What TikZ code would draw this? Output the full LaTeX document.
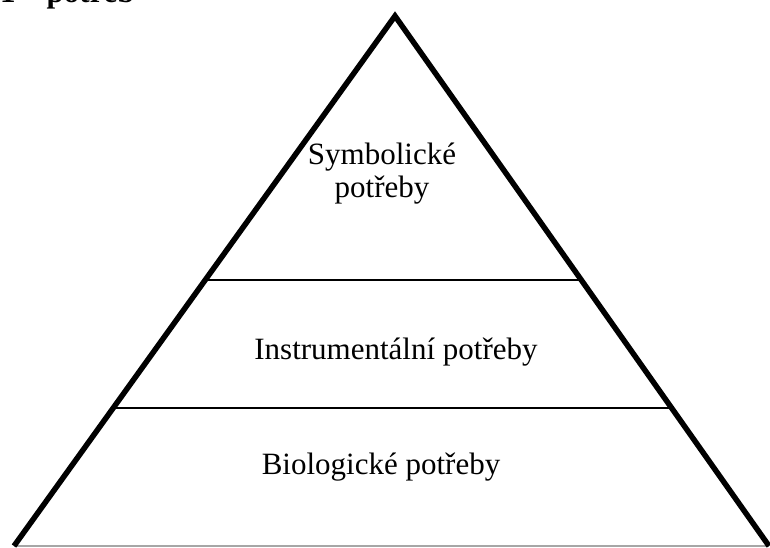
\documentclass[tikz,border=0pt]{standalone}
\usepackage{fontspec}
\setmainfont{Liberation Serif}
\begin{document}
\begin{tikzpicture}[x=1pt,y=-1pt,
  lbl/.style={font=\fontsize{31}{33}\selectfont, inner sep=0pt, anchor=base, align=center},
  side/.style={line width=5.5pt, line join=miter},
  level/.style={line width=1.5pt}]
\useasboundingbox (0,0) rectangle (770,547);
\begin{scope}
\clip (0,0) rectangle (770,547);
\node[font=\fontsize{31}{36}\selectfont\bfseries, inner sep=0pt, anchor=base west] (title) at (0,2) {1 – potřeb};
\end{scope}
\coordinate (top) at (395,16);
\coordinate (bl) at (14,546);
\coordinate (br) at (769,546);
\coordinate (up1) at (205,280);
\coordinate (up2) at (581,280);
\coordinate (lo1) at (113,408);
\coordinate (lo2) at (672,408);

\draw[level](up1) -- (up2);
\draw[level](lo1) -- (lo2);
\draw[gray!70, line width=1.2pt](bl) -- (br);
\draw[side](bl) -- (top) -- (br);

\node[lbl] (sym) at (382,197) {Symbolické\\potřeby};
\node[lbl] (ins) at (396,359) {Instrumentální potřeby};
\node[lbl] (bio) at (381,474) {Biologické potřeby};
\end{tikzpicture}
\end{document}
